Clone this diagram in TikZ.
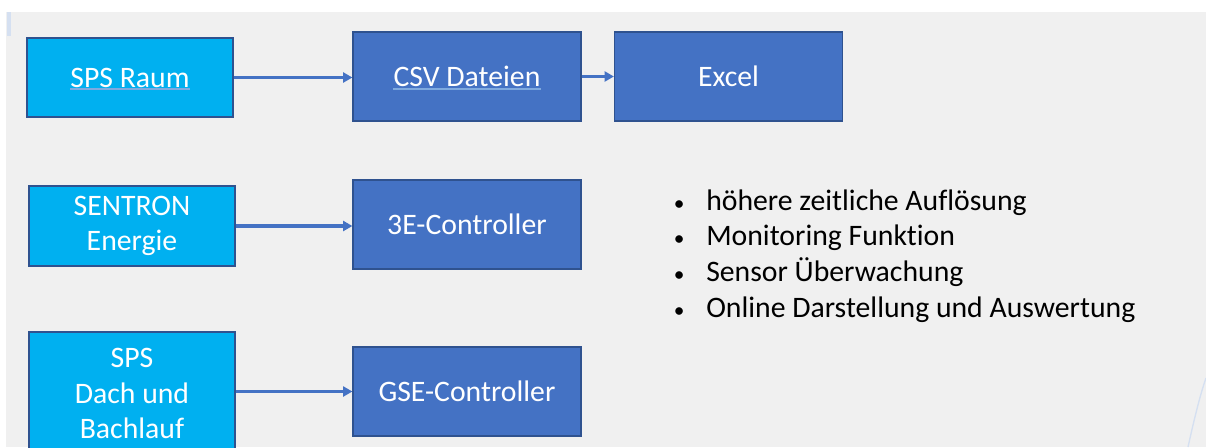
\documentclass[tikz,border=0pt]{standalone}
\usepackage{fontspec}
\setmainfont{Carlito}[Ligatures=NoCommon]
\usetikzlibrary{arrows.meta,calc}
\definecolor{bgc}{HTML}{F0F0F0}
\definecolor{lightbox}{HTML}{00B0F0}
\definecolor{darkbox}{HTML}{4472C4}
\definecolor{boxline}{HTML}{2F528F}
\definecolor{arrowc}{HTML}{4472C4}
\definecolor{ulc}{HTML}{7FAADF}
\definecolor{faint}{HTML}{D5E0F1}
\tikzset{
  boxbase/.style={draw=boxline, line width=0.9pt, text=white, align=center, inner sep=0pt,
    font=\fontsize{22.3}{26.5}\selectfont},
  lbox/.style={boxbase, fill=lightbox, minimum width=154.5pt},
  dbox/.style={boxbase, fill=darkbox, minimum width=171pt, minimum height=66.75pt},
  arr/.style={draw=arrowc, line width=2.3pt, -{Triangle[length=7pt,width=7.5pt]}},
  uline/.style={draw=ulc, line width=1.4pt},
}
\newcommand\bul{\makebox[26.25pt][l]{\hspace*{2pt}{\fontsize{16}{16}\selectfont•}}}
\begin{document}
\begin{tikzpicture}[x=0.75pt,y=-0.75pt]
\useasboundingbox (0,0) rectangle (1206,447);
\clip (0,0) rectangle (1206,447);
\fill[bgc] (6,12) rectangle (1206,447);
\fill[faint] (7,12) rectangle (11,36);
\draw[faint, line width=1pt] (1188,447) .. controls (1194,420) and (1200,395) .. (1206,378);
% left column
\node[lbox, minimum height=59.25pt] (raum) at (130,77.5) {SPS Raum};
\node[lbox, minimum height=60pt] (sentron) at (132,226) {SENTRON\\Energie};
\node[lbox, minimum height=92.25pt] (dach) at (132,393.5) {SPS\\Dach und\\Bachlauf};
% middle/right
\node[dbox] (csv) at (467,76.5) {CSV Dateien};
\node[dbox] (excel) at (728.5,76.5) {Excel};
\node[dbox] (e3) at (467,224.5) {3E-Controller};
\node[dbox] (gse) at (467,391.5) {GSE-Controller};
% underlines
\draw[uline] ($(raum.center)+(-60,11.5)$) -- ($(raum.center)+(60,11.5)$);
\draw[uline] ($(csv.center)+(-74,12.5)$) -- ($(csv.center)+(74,12.5)$);
% arrows
\draw[arr] (raum.east) -- (csv.west |- raum.east);
\draw[arr] (csv) -- (excel);
\draw[arr] (sentron.east) -- (e3.west |- sentron.east);
\draw[arr] (dach.east |- gse.west) -- (gse.west);
% bullet list
\node[anchor=west, align=left, inner sep=0pt, text=black,
  font=\fontsize{22.3}{26.75}\selectfont] (list) at (671,256)
  {\bul höhere zeitliche Auflösung\\
   \bul Monitoring Funktion\\
   \bul Sensor Überwachung\\
   \bul Online Darstellung und Auswertung};
\end{tikzpicture}
\end{document}
